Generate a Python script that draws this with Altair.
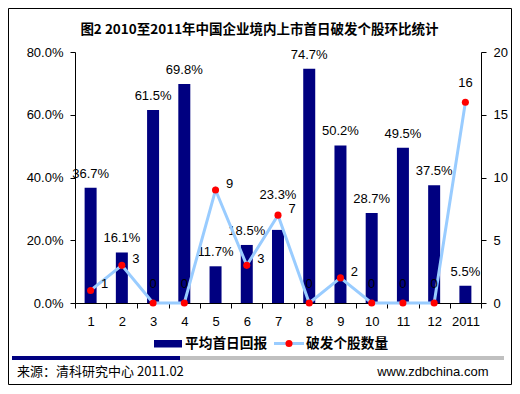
import altair as alt
import pandas as pd

# ---- data ----
months = ["1", "2", "3", "4", "5", "6", "7", "8", "9", "10", "11", "12", "2011"]
avg_return = [36.7, 16.1, 61.5, 69.8, 11.7, 18.5, 23.3, 74.7, 50.2, 28.7, 49.5, 37.5, 5.5]
broken_count = [1, 3, 0, 0, 9, 3, 7, 0, 2, 0, 0, 0, 16]
left_ticks = [0, 20, 40, 60, 80]
right_ticks = [0, 5, 10, 15, 20]
title_text = "图2 2010至2011年中国企业境内上市首日破发个股环比统计"
legend_bar = "平均首日回报"
legend_line = "破发个股数量"
source_text = "来源：清科研究中心 2011.02"
site_text = "www.zdbchina.com"

df = pd.DataFrame({"month": months, "ret": avg_return, "cnt": broken_count})

NUM = "Liberation Sans"
CJK = "Noto Sans CJK SC"
NAVY = "#000080"
LBLUE = "#99CCFF"
W, H = 406, 251

axis_common = dict(
    title=None, grid=False, tickSize=5, labelPadding=7,
    domainColor="black", tickColor="black", labelColor="black",
    labelFont=NUM, labelFontSize=13,
)

x = alt.X(
    "month:N", sort=months,
    scale=alt.Scale(paddingInner=0, paddingOuter=0),
    axis=alt.Axis(labelAngle=0, tickBand="extent", **axis_common),
)

left_axis = alt.Axis(orient="left", values=left_ticks,
                     labelExpr="format(datum.value, '.1f') + '%'", **axis_common)
right_axis = alt.Axis(orient="right", values=right_ticks, format="d", **axis_common)
left_scale = alt.Scale(domain=[0, 80])
right_scale = alt.Scale(domain=[0, 20])

base = alt.Chart(df)

# ---- bars (left axis) ----
bars = base.mark_bar(color=NAVY, size=12).encode(
    x=x, y=alt.Y("ret:Q", scale=left_scale, axis=left_axis),
)

lab_base = base.transform_calculate(
    lab="format(datum.ret, '.1f') + '%'",
    gap="datum.cnt * 4 - datum.ret",
    anc="datum.cnt * 4",
)
bar_labels = lab_base.transform_filter("datum.gap < 0 || datum.gap > 8").mark_text(
    font=NUM, fontSize=13, color="black", baseline="middle", dy=-14
).encode(x=x, y=alt.Y("ret:Q", scale=left_scale, axis=left_axis), text="lab:N")
bar_labels_raised = lab_base.transform_filter("datum.gap >= 0 && datum.gap <= 8").mark_text(
    font=NUM, fontSize=13, color="black", baseline="middle", dy=-20
).encode(x=x, y=alt.Y("anc:Q", scale=left_scale, axis=left_axis), text="lab:N")

bar_group = alt.layer(bars, bar_labels, bar_labels_raised)

# ---- line (right axis) ----
yr = alt.Y("cnt:Q", scale=right_scale, axis=right_axis)
line = base.mark_line(color=LBLUE, strokeWidth=3).encode(x=x, y=yr)
points = base.mark_point(filled=True, color="#FF0000", size=50, opacity=1).encode(x=x, y=yr)

ll_base = base.transform_joinaggregate(mx="max(cnt)")
line_labels_above = ll_base.transform_filter("datum.cnt == 0 || datum.cnt == datum.mx").mark_text(
    font=NUM, fontSize=13, color="black", baseline="middle", dy=-19
).encode(x=x, y=yr, text="cnt:Q")
line_labels_right = ll_base.transform_filter("datum.cnt != 0 && datum.cnt != datum.mx").mark_text(
    font=NUM, fontSize=13, color="black", baseline="middle", dx=14, dy=-6
).encode(x=x, y=yr, text="cnt:Q")

line_group = alt.layer(line, points, line_labels_above, line_labels_right)


# ---- decorations (title, legend, footer, frame) ----
def one(t=""):
    return alt.Chart(pd.DataFrame({"t": [t]}))


frame = one().mark_rect(fillOpacity=0, stroke="black", strokeWidth=1).encode(
    x=alt.value(-66.5), x2=alt.value(436.5), y=alt.value(-43.5), y2=alt.value(332.5)
)
title = one(title_text).mark_text(
    font=CJK, fontSize=13.5, fontWeight="bold", color="black", align="center", baseline="middle"
).encode(text="t:N", x=alt.value(184.5), y=alt.value(-22))

leg_rect = one().mark_rect(color=NAVY).encode(
    x=alt.value(79), x2=alt.value(107), y=alt.value(288), y2=alt.value(295.5)
)
leg_bar_text = one(legend_bar).mark_text(
    font=CJK, fontSize=13.7, fontWeight="bold", color="black", align="left", baseline="middle"
).encode(text="t:N", x=alt.value(110), y=alt.value(291.5))
leg_line = one().mark_rule(color=LBLUE, strokeWidth=3).encode(
    x=alt.value(199), x2=alt.value(229), y=alt.value(291.5)
)
leg_dot = one().mark_point(filled=True, color="#FF0000", size=50, opacity=1).encode(
    x=alt.value(214), y=alt.value(291.5)
)
leg_line_text = one(legend_line).mark_text(
    font=CJK, fontSize=13.7, fontWeight="bold", color="black", align="left", baseline="middle"
).encode(text="t:N", x=alt.value(231), y=alt.value(291.5))

sep_navy = one().mark_rect(color=NAVY).encode(
    x=alt.value(-63), x2=alt.value(105), y=alt.value(304), y2=alt.value(308)
)
sep_gray = one().mark_rect(color="#C0C0C0").encode(
    x=alt.value(105), x2=alt.value(429), y=alt.value(304), y2=alt.value(308)
)
src = one(source_text).mark_text(
    font=CJK, fontSize=13, color="black", align="left", baseline="middle"
).encode(text="t:N", x=alt.value(-58), y=alt.value(319.5))
site = one(site_text).mark_text(
    font=NUM, fontSize=13, color="black", align="right", baseline="middle"
).encode(text="t:N", x=alt.value(413.5), y=alt.value(319.5))

chart = alt.layer(
    frame, bar_group, line_group, title,
    leg_rect, leg_bar_text, leg_line, leg_dot, leg_line_text,
    sep_navy, sep_gray, src, site,
).resolve_scale(y="independent").properties(
    width=W, height=H,
    padding={"left": 67, "top": 44, "right": 31, "bottom": 83},
    autosize=alt.AutoSizeParams(type="none"),
    background="white",
).configure_view(strokeWidth=0)

chart.save("out.html", embed_options={"renderer": "svg", "actions": False})
